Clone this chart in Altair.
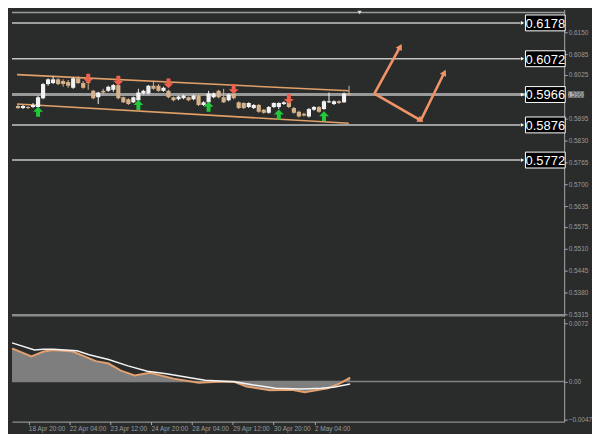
import altair as alt
import pandas as pd

# ---------------- data ----------------
idx = list(range(-3, 64))
opens = [.5932, .5926, .5929, .5929, .5929, .5955, .5997, .6000, .6011, .6006,
         .6003, .5986, .6014, .6000, .6003, .5977, .5958, .5977, .5977, .5980,
         .5994, .5958, .5952, .5943, .5949, .5969, .5969, .5992, .5992, .5977,
         .5977, .5958, .5952, .5955, .5958, .5952, .5963, .5935, .5943, .5958,
         .5977, .5958, .5949, .5969, .5943, .5941, .5929, .5926, .5935, .5921,
         .5912, .5929, .5929, .5938, .5943, .5926, .5915, .5909, .5901, .5921,
         .5929, .5923, .5943, .5938, .5946, .5943, .5969]
closes = [.5926, .5932, .5926, .5935, .5958, .5997, .6011, .6011, .5997, .5997,
          .5992, .6014, .6000, .5986, .6000, .5955, .5972, .5972, .5989, .5994,
          .5955, .5943, .5938, .5958, .5972, .5977, .5992, .5983, .5977, .5986,
          .5958, .5949, .5960, .5963, .5949, .5963, .5935, .5943, .5969, .5969,
          .5958, .5943, .5966, .5955, .5926, .5926, .5941, .5935, .5915, .5912,
          .5929, .5941, .5941, .5943, .5929, .5912, .5901, .5904, .5923, .5929,
          .5915, .5946, .5946, .5946, .5941, .5969, .5966]
highs = [.5938, .5935, .5932, .5941, .5963, .6000, .6014, .6020, .6014, .6011,
         .6009, .6017, .6020, .6006, .6009, .5980, .5974, .5983, .5992, .5997,
         .6000, .5960, .5955, .5960, .5983, .5980, .5994, .6006, .5997, .5989,
         .5980, .5960, .5963, .5966, .5960, .5966, .5966, .5946, .5977, .5972,
         .5980, .5983, .5969, .5972, .5946, .5943, .5943, .5938, .5938, .5923,
         .5932, .5943, .5943, .5946, .5946, .5929, .5918, .5912, .5926, .5932,
         .5932, .5949, .5972, .5949, .5949, .5972, .5992]
lows = [.5923, .5923, .5923, .5926, .5923, .5952, .5992, .5997, .5994, .5989,
        .5986, .5983, .5997, .5983, .5980, .5952, .5938, .5966, .5974, .5974,
        .5952, .5941, .5935, .5941, .5946, .5966, .5966, .5980, .5974, .5974,
        .5955, .5946, .5949, .5952, .5946, .5949, .5932, .5932, .5941, .5955,
        .5955, .5941, .5946, .5952, .5923, .5923, .5926, .5923, .5912, .5909,
        .5909, .5926, .5923, .5935, .5926, .5909, .5898, .5901, .5898, .5918,
        .5912, .5921, .5941, .5935, .5938, .5941, .5963]

up_idx = [1, 21, 35, 49, 58]
up_price = [.5915, .5935, .5930, .5907, .5902]
dn_idx = [11, 17, 27, 40, 51]
dn_price = [.6013, .6007, .5999, .5982, .5953]

chan_name = ["upper", "upper", "lower", "lower"]
chan_x = [-3.2, 62.95, -3.2, 62.95]
chan_p = [.6025, .5977, .5938, .5881]

levels = [0.6178, 0.6072, 0.5876, 0.5772]
level_text = ["0.6178", "0.6072", "0.5876", "0.5772"]
current = 0.5966
top_line = 0.6209

arr_path = ["a", "a", "b", "b", "b"]
arr_ord = [0, 1, 0, 1, 2]
arr_x = [68.05, 73.2, 68.05, 77.3, 82.0]
arr_p = [.59689, .61075, .59689, .58896, .60311]
head_x = [73.2, 77.3, 82.0]
head_p = [.61075, .58896, .60311]
head_ang = [29, 120, 27]

price_ticks = [0.6150, 0.6085, 0.6025, 0.5895, 0.5830, 0.5765, 0.5700,
               0.5635, 0.5575, 0.5510, 0.5445, 0.5380, 0.5315]

sig_x = [-3.2, 1.2, 3.0, 4.9, 9.5, 11.9, 15.7, 19.5, 23.3, 27.0, 30.8, 34.6,
         40.3, 44.1, 48.4, 53.5, 57.3, 59.7, 63.0]
sig_v = [.00476, .00389, .00398, .00398, .00378, .00330, .00271, .00192,
         .00126, .00094, .00055, .00015, -.00004, -.00044, -.00083, -.00094,
         -.00083, -.00071, -.00032]
main_x = [-3.2, 0.6, 3.0, 4.9, 8.7, 13.2, 15.7, 18.1, 20.8, 23.8, 28.4, 33.3,
          37.1, 40.3, 42.7, 47.3, 51.6, 54.1, 58.6, 61.0, 63.0]
main_v = [.00409, .00310, .00369, .00389, .00369, .00251, .00221, .00133,
          .00074, .00106, .00035, -.00015, -.00004, -.00004, -.00063, -.00110,
          -.00103, -.00133, -.00083, -.00024, .00047]

time_ticks = [0, 8, 16, 24, 32, 40, 48, 56]
time_labels = ["18 Apr 20:00", "22 Apr 04:00", "23 Apr 12:00", "24 Apr 20:00",
               "28 Apr 04:00", "29 Apr 12:00", "30 Apr 20:00", "2 May 04:00"]
ind_ticks = [0.0072, 0.0, -0.0047]

# ---------------- layout / style ----------------
W = 556
HM = 309
HI = 104
BG = "#2a2c2c"
FONT = "Liberation Sans"
AX = "#a8a8a8"

candles = pd.DataFrame({"i": idx, "o": opens, "c": closes, "h": highs, "l": lows})
candles["dir"] = ["bull" if c >= o else "bear" for o, c in zip(opens, closes)]

xs = alt.Scale(domain=[-3.21, 104.9], nice=False, zero=False)
ys = alt.Scale(domain=[0.53093, 0.62179], nice=False, zero=False)
cscale = alt.Scale(domain=["bull", "bear"], range=["#f2f2f2", "#d6b28a"])

yaxis = alt.Axis(orient="right", values=price_ticks, format=".4f", grid=False,
                 labelFontSize=6.5, labelColor="#9a9a9a", labelFont=FONT,
                 tickColor=AX, tickSize=3, domainColor=AX, labelPadding=1,
                 labelOverlap=False, labelFlush=False, title=None)

base = alt.Chart(candles)

top_rule = alt.Chart(pd.DataFrame({"p": [top_line]})).mark_rule(
    color="#9c9c9c", strokeWidth=1.5).encode(
    y=alt.Y("p:Q", scale=ys, axis=yaxis), x=alt.value(0), x2=alt.value(W))

lev_df = pd.DataFrame({"p": levels, "t": level_text})
lev_rules = alt.Chart(lev_df).mark_rule(color="#c4c4c4", strokeWidth=1.6).encode(
    y=alt.Y("p:Q", scale=ys, axis=yaxis), x=alt.value(0), x2=alt.value(512))

cur_df = pd.DataFrame({"p": [current], "t": ["0.5966"]})
cur_rule = alt.Chart(cur_df).mark_rule(color="#9a9a9a", strokeWidth=3).encode(
    y=alt.Y("p:Q", scale=ys, axis=yaxis), x=alt.value(0), x2=alt.value(W))

chan = alt.Chart(pd.DataFrame({"g": chan_name, "x": chan_x, "p": chan_p})).mark_line(
    color="#e0a068", strokeWidth=1.6).encode(
    x=alt.X("x:Q", scale=xs, axis=None), y=alt.Y("p:Q", scale=ys, axis=yaxis),
    detail="g:N")

wicks = base.mark_rule(strokeWidth=1).encode(
    x=alt.X("i:Q", scale=xs, axis=None), y=alt.Y("l:Q", scale=ys, axis=yaxis), y2="h:Q",
    color=alt.Color("dir:N", scale=cscale, legend=None))
bodies = base.mark_bar(size=4.2).encode(
    x=alt.X("i:Q", scale=xs, axis=None), y=alt.Y("o:Q", scale=ys, axis=yaxis), y2="c:Q",
    color=alt.Color("dir:N", scale=cscale, legend=None))

UP = "M0,-1L1,0L0.4,0L0.4,1L-0.4,1L-0.4,0L-1,0Z"
DN = "M0,1L1,0L0.4,0L0.4,-1L-0.4,-1L-0.4,0L-1,0Z"
up_arrows = alt.Chart(pd.DataFrame({"i": up_idx, "p": up_price})).mark_point(
    shape=UP, filled=True, size=100, color="#22c83a", opacity=1).encode(
    x=alt.X("i:Q", scale=xs, axis=None), y=alt.Y("p:Q", scale=ys, axis=yaxis))
dn_arrows = alt.Chart(pd.DataFrame({"i": dn_idx, "p": dn_price})).mark_point(
    shape=DN, filled=True, size=100, color="#f0604c", opacity=1).encode(
    x=alt.X("i:Q", scale=xs, axis=None), y=alt.Y("p:Q", scale=ys, axis=yaxis))

arr_df = pd.DataFrame({"g": arr_path, "o": arr_ord, "x": arr_x, "p": arr_p})
arr_lines = alt.Chart(arr_df).mark_line(color="#f09468", strokeWidth=2.6).encode(
    x=alt.X("x:Q", scale=xs, axis=None), y=alt.Y("p:Q", scale=ys, axis=yaxis),
    detail="g:N", order="o:Q")
heads = alt.Chart(pd.DataFrame({"x": head_x, "p": head_p, "a": head_ang})).mark_point(
    shape="triangle-up", filled=True, size=50, color="#f09468", opacity=1).encode(
    x=alt.X("x:Q", scale=xs, axis=None), y=alt.Y("p:Q", scale=ys, axis=yaxis),
    angle=alt.Angle("a:Q", scale=None))

BOX = "M-2.5,-1H2.5V1H-2.5Z"
lev_boxes = alt.Chart(lev_df).mark_point(
    shape=BOX, size=256, filled=True, fill="#000000", stroke="#ffffff",
    strokeWidth=1, opacity=1).encode(
    y=alt.Y("p:Q", scale=ys, axis=yaxis), x=alt.value(537))
cur_box = alt.Chart(cur_df).mark_point(
    shape=BOX, size=256, filled=True, fill="#000000", stroke="#ffffff",
    strokeWidth=1, opacity=1).encode(
    y=alt.Y("p:Q", scale=ys, axis=yaxis), x=alt.value(537))
ptrs = alt.Chart(pd.concat([lev_df, cur_df])).mark_point(
    shape="triangle-right", filled=True, size=14, color="#ffffff", opacity=1).encode(
    y=alt.Y("p:Q", scale=ys, axis=yaxis), x=alt.value(514))
lev_text = alt.Chart(pd.concat([lev_df, cur_df])).mark_text(
    color="#ffffff", fontSize=13, font=FONT, align="center", baseline="middle", dy=1).encode(
    y=alt.Y("p:Q", scale=ys, axis=yaxis), x=alt.value(537), text="t:N")

cur_axis_box = alt.Chart(cur_df).mark_point(
    shape="M-1.6,-0.6H1.6V0.6H-1.6Z", size=100, filled=True, fill="#b4b4b4",
    opacity=1).encode(y=alt.Y("p:Q", scale=ys, axis=yaxis), x=alt.value(W + 12))
cur_axis_text = alt.Chart(cur_df).mark_text(
    color="#3a3a3a", fontSize=6.5, font=FONT, align="center", baseline="middle").encode(
    y=alt.Y("p:Q", scale=ys, axis=yaxis), x=alt.value(W + 12), text="t:N")

top_mark = alt.Chart(pd.DataFrame({"p": [top_line]})).mark_point(
    shape="triangle-down", filled=True, size=18, color="#e0e0e0", opacity=1).encode(
    y=alt.Y("p:Q", scale=ys, axis=yaxis), x=alt.value(350))

sep = alt.Chart(pd.DataFrame({"p": [0]})).mark_rule(
    color="#8a8a8a", strokeWidth=2.5).encode(
    y=alt.value(HM - 1), x=alt.value(0), x2=alt.value(W))

main = alt.layer(
    top_rule, lev_rules, cur_rule, chan, wicks, bodies, up_arrows, dn_arrows,
    arr_lines, heads, lev_boxes, cur_box, ptrs, lev_text, cur_axis_box,
    cur_axis_text, top_mark, sep
).properties(width=W, height=HM)

# ---------------- indicator panel ----------------
iy = alt.Scale(domain=[-0.00496, 0.00779], nice=False, zero=False)
xaxis = alt.Axis(values=time_ticks, labelExpr="%s[datum.value / 8]" % str(time_labels),
                 labelAlign="left", labelFontSize=6.5, labelColor="#9a9a9a",
                 labelFont=FONT, tickColor=AX, tickSize=3, domainColor=AX,
                 labelPadding=1, grid=False, labelOverlap=False, labelFlush=False,
                 title=None)
iyaxis = alt.Axis(orient="right", values=ind_ticks,
                  labelExpr="datum.value == 0 ? '0.00' : format(datum.value, '.4f')",
                  labelFontSize=6.5, labelColor="#9a9a9a", labelFont=FONT,
                  tickColor=AX, tickSize=3, domainColor=AX, labelPadding=1,
                  grid=False, labelOverlap=False, labelFlush=False, title=None)

mdf = pd.DataFrame({"x": main_x, "v": main_v})
sdf = pd.DataFrame({"x": sig_x, "v": sig_v})

zero = alt.Chart(pd.DataFrame({"v": [0.0]})).mark_rule(
    color="#808080", strokeWidth=1.5).encode(
    y=alt.Y("v:Q", scale=iy, axis=iyaxis), x=alt.value(0), x2=alt.value(W))
area = alt.Chart(mdf).mark_area(color="#7e7e7e", opacity=1).encode(
    x=alt.X("x:Q", scale=xs, axis=xaxis), y=alt.Y("v:Q", scale=iy, axis=iyaxis),
    y2=alt.datum(0))
oline = alt.Chart(mdf).mark_line(color="#e2a070", strokeWidth=2).encode(
    x=alt.X("x:Q", scale=xs, axis=xaxis), y=alt.Y("v:Q", scale=iy, axis=iyaxis))
wline = alt.Chart(sdf).mark_line(color="#f4f4f4", strokeWidth=1.5).encode(
    x=alt.X("x:Q", scale=xs, axis=xaxis), y=alt.Y("v:Q", scale=iy, axis=iyaxis))

ind = alt.layer(zero, area, oline, wline).properties(width=W, height=HI)

chart = alt.vconcat(main, ind, spacing=0).properties(
    padding=0, background=BG
).configure_view(stroke=None, fill=BG).configure_axis(labelOverlap=False)

chart.save("out.html", embed_options={"renderer": "svg", "actions": False})
